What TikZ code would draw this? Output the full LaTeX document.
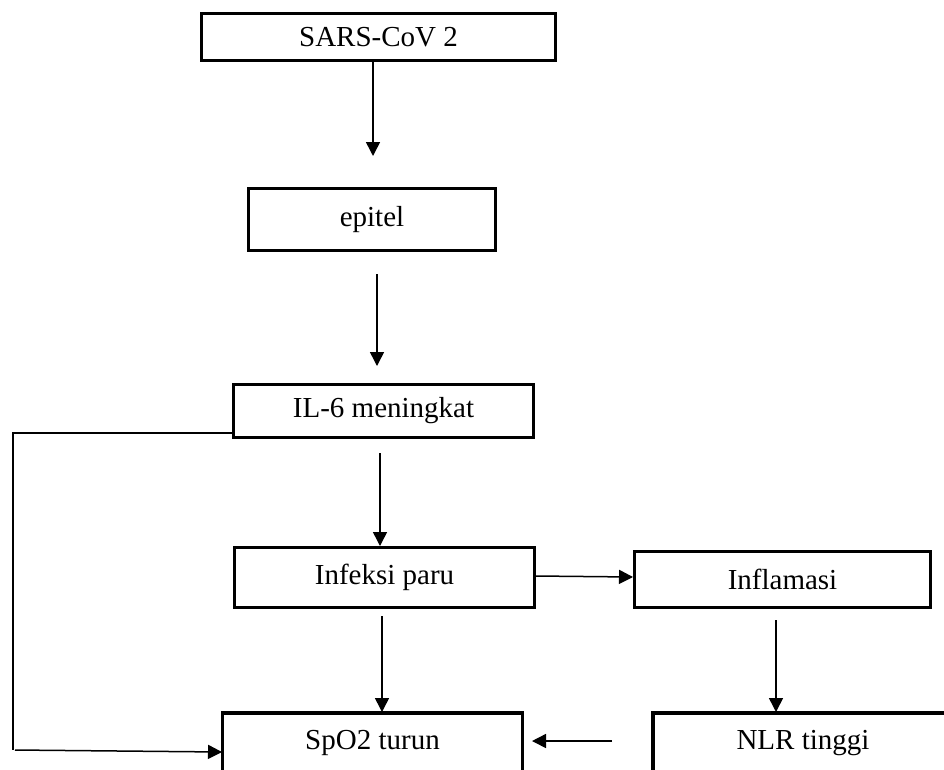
\documentclass[tikz,border=0pt]{standalone}
\usepackage{fontspec}
\setmainfont{Liberation Serif}
\usetikzlibrary{arrows.meta}
\begin{document}
\begin{tikzpicture}[x=1pt,y=-1pt,
  box/.style={draw=black,line width=3.2pt,rectangle,inner sep=0pt,font=\fontsize{29}{34}\selectfont},
  arr/.style={line width=1.5pt,-{Triangle[length=14pt,width=14pt]}},
  ln/.style={line width=1.5pt}]
\useasboundingbox (0,0) rectangle (944,769);
\clip (0,0) rectangle (944,769);
\fill[white] (0,0) rectangle (944,769);

\node[box,minimum width=354pt,minimum height=47pt] (sars) at (378.5,37) {SARS-CoV 2};
\node[box,minimum width=247pt,minimum height=62pt] (epi) at (372,219.5) {epitel};
\node[box,minimum width=300pt,minimum height=53pt] (il6) at (383.5,411) {IL-6 meningkat};
\node[box,minimum width=300pt,minimum height=60pt] (inf) at (384.5,577.5) {Infeksi paru};
\node[box,minimum width=296pt,minimum height=56pt] (infl) at (782.5,579.5) {Inflamasi};
\node[box,minimum width=300pt,minimum height=60pt] (spo) at (372.5,743) {SpO2 turun};
\node[box,minimum width=300pt,minimum height=60pt] (nlr) at (803,743) {NLR tinggi};

\coordinate (a1s) at (373,62);
\coordinate (a1e) at (373,156);
\coordinate (a2s) at (377,274);
\coordinate (a2e) at (377,366);
\coordinate (a3s) at (380,453);
\coordinate (a3e) at (380,546);
\coordinate (a4e) at (382,712);
\coordinate (a4s) at (382,616);
\coordinate (a5s) at (536,576);
\coordinate (a5e) at (633,577);
\coordinate (a6s) at (776,620);
\coordinate (a6e) at (776,712);
\coordinate (a7s) at (612,741);
\coordinate (a7e) at (532,741);
\coordinate (lc1) at (13,433);
\coordinate (lc2) at (13,750);
\coordinate (lc3) at (15,750);
\coordinate (lc4) at (222,752);

\draw[arr] (a1s) -- (a1e);
\draw[arr] (a2s) -- (a2e);
\draw[arr] (a3s) -- (a3e);
\draw[arr] (a4s) -- (a4e);
\draw[arr] (a5s) -- (a5e);
\draw[arr] (a6s) -- (a6e);
\draw[arr] (a7s) -- (a7e);
\draw[ln] (il6.west |- lc1) -- (lc1) -- (lc2);
\draw[arr] (lc3) -- (lc4);
\end{tikzpicture}
\end{document}
